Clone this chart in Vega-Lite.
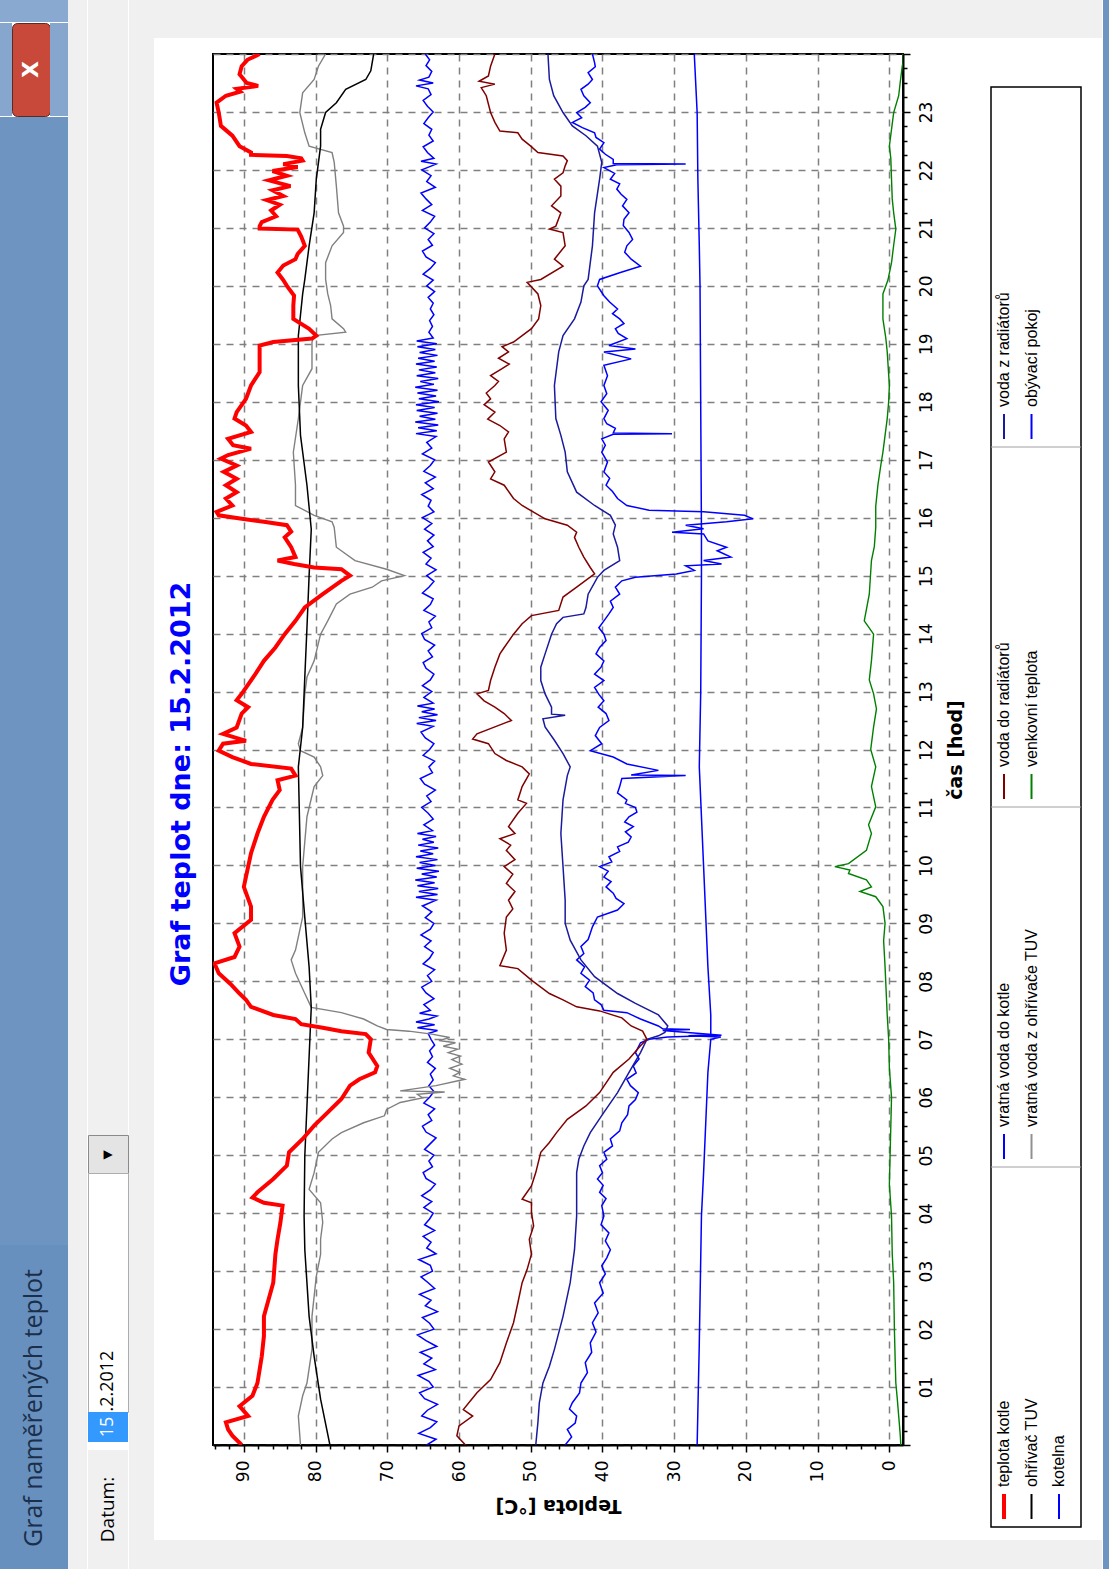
{
"$schema": "https://vega.github.io/schema/vega-lite/v6.json",
"padding": 0,
"background": "#ffffff",
"spacing": 0,
"config": {"view": {"stroke": null}},
"datasets": {
"kotel": [{"h":0,"t":90.3},{"h":0.16,"t":91.6},{"h":0.27,"t":92.2},{"h":0.39,"t":92.5},{"h":0.5,"t":89.4},{"h":0.67,"t":90.6},{"h":0.85,"t":88.8},{"h":1.07,"t":88.1},{"h":1.53,"t":87.5},{"h":1.88,"t":87.2},{"h":2.22,"t":87.2},{"h":2.8,"t":85.9},{"h":3.29,"t":85.6},{"h":3.55,"t":85.3},{"h":3.84,"t":84.9},{"h":4.13,"t":84.6},{"h":4.18,"t":87.2},{"h":4.27,"t":88.8},{"h":4.36,"t":88.1},{"h":4.59,"t":85.9},{"h":4.82,"t":84},{"h":5.05,"t":83.7},{"h":5.28,"t":81.8},{"h":5.51,"t":80.2},{"h":5.74,"t":78.3},{"h":5.97,"t":76.4},{"h":6.2,"t":75.2},{"h":6.31,"t":73.9},{"h":6.43,"t":71.7},{"h":6.54,"t":71.4},{"h":6.77,"t":72.6},{"h":7.0,"t":72.3},{"h":7.09,"t":73},{"h":7.14,"t":76.4},{"h":7.2,"t":79},{"h":7.26,"t":82},{"h":7.35,"t":82.8},{"h":7.42,"t":85.9},{"h":7.56,"t":89},{"h":7.68,"t":89.7},{"h":7.79,"t":90.6},{"h":7.96,"t":91.9},{"h":8.14,"t":93.5},{"h":8.31,"t":94.1},{"h":8.42,"t":91.3},{"h":8.6,"t":90.6},{"h":8.83,"t":91.3},{"h":9.06,"t":89},{"h":9.29,"t":89},{"h":9.63,"t":90},{"h":9.98,"t":89.4},{"h":10.21,"t":89},{"h":10.55,"t":88.1},{"h":10.84,"t":87.2},{"h":11.13,"t":86},{"h":11.3,"t":85},{"h":11.47,"t":85.3},{"h":11.55,"t":82.8},{"h":11.67,"t":83.4},{"h":11.75,"t":89},{"h":11.87,"t":91.6},{"h":11.98,"t":93.5},{"h":12.1,"t":92.9},{"h":12.15,"t":89.7},{"h":12.27,"t":92.9},{"h":12.38,"t":91},{"h":12.62,"t":90.3},{"h":12.73,"t":89.4},{"h":12.85,"t":91},{"h":12.96,"t":90.3},{"h":13.3,"t":88.4},{"h":13.53,"t":87.2},{"h":13.76,"t":85.6},{"h":13.99,"t":84.3},{"h":14.22,"t":82.8},{"h":14.45,"t":81.5},{"h":14.68,"t":79},{"h":14.91,"t":76.4},{"h":15.0,"t":75.2},{"h":15.11,"t":76.4},{"h":15.14,"t":80.2},{"h":15.2,"t":83},{"h":15.26,"t":85.3},{"h":15.32,"t":82.8},{"h":15.49,"t":83.4},{"h":15.66,"t":84.3},{"h":15.76,"t":83.4},{"h":15.87,"t":84},{"h":15.93,"t":87.2},{"h":15.98,"t":90.3},{"h":16.04,"t":93.5},{"h":16.1,"t":93.8},{"h":16.21,"t":91.6},{"h":16.33,"t":92.5},{"h":16.44,"t":91},{"h":16.56,"t":92.5},{"h":16.67,"t":91},{"h":16.79,"t":92.8},{"h":16.9,"t":91},{"h":17.02,"t":93.2},{"h":17.08,"t":92.2},{"h":17.19,"t":89},{"h":17.25,"t":91.5},{"h":17.36,"t":92.2},{"h":17.48,"t":89},{"h":17.59,"t":89.7},{"h":17.71,"t":91.3},{"h":17.82,"t":91},{"h":18.05,"t":89.7},{"h":18.28,"t":89},{"h":18.51,"t":87.8},{"h":18.97,"t":87.8},{"h":19.03,"t":85.9},{"h":19.09,"t":80.5},{"h":19.14,"t":79.9},{"h":19.26,"t":80.9},{"h":19.43,"t":83.1},{"h":19.66,"t":83.1},{"h":19.83,"t":83},{"h":20.0,"t":84},{"h":20.1,"t":84.5},{"h":20.23,"t":85.3},{"h":20.35,"t":84.5},{"h":20.46,"t":82.8},{"h":20.55,"t":82.5},{"h":20.69,"t":81.5},{"h":20.85,"t":82},{"h":20.97,"t":82.5},{"h":20.99,"t":87.8},{"h":21.03,"t":87.8},{"h":21.1,"t":87.5},{"h":21.2,"t":85.5},{"h":21.3,"t":86.2},{"h":21.4,"t":85},{"h":21.48,"t":86.8},{"h":21.55,"t":84.5},{"h":21.65,"t":86},{"h":21.72,"t":83.5},{"h":21.82,"t":86.5},{"h":21.9,"t":84},{"h":21.98,"t":86},{"h":22.05,"t":82.5},{"h":22.1,"t":84.5},{"h":22.16,"t":81.8},{"h":22.2,"t":82},{"h":22.24,"t":84},{"h":22.26,"t":89},{"h":22.3,"t":89},{"h":22.41,"t":90.6},{"h":22.59,"t":91.6},{"h":22.76,"t":93.2},{"h":22.99,"t":93.5},{"h":23.16,"t":93.8},{"h":23.28,"t":92.5},{"h":23.35,"t":90.5},{"h":23.4,"t":91},{"h":23.45,"t":88},{"h":23.5,"t":89.6},{"h":23.65,"t":90.6},{"h":23.79,"t":90.3},{"h":23.9,"t":89.5},{"h":24,"t":87.8}],
"tuv": [{"h":0,"t":78.0},{"h":0.79,"t":79.3},{"h":1.53,"t":80.2},{"h":2.22,"t":80.9},{"h":3.37,"t":81.5},{"h":3.95,"t":81.6},{"h":4.99,"t":81.5},{"h":5.85,"t":81.2},{"h":7.55,"t":80.6},{"h":8.25,"t":80.9},{"h":9.1,"t":81.5},{"h":9.98,"t":82.1},{"h":11.7,"t":82.4},{"h":12.38,"t":81.8},{"h":13.25,"t":81.5},{"h":14.1,"t":81.2},{"h":15.0,"t":80.9},{"h":15.8,"t":80.6},{"h":16.56,"t":81.2},{"h":17.42,"t":82.1},{"h":18.28,"t":82.4},{"h":19.14,"t":82.4},{"h":19.86,"t":81.8},{"h":20.11,"t":81.5},{"h":20.69,"t":80.9},{"h":21.26,"t":80.2},{"h":21.84,"t":79.9},{"h":22.41,"t":79.3},{"h":22.7,"t":79.3},{"h":22.99,"t":78.6},{"h":23.16,"t":77.1},{"h":23.39,"t":75.8},{"h":23.56,"t":73},{"h":23.71,"t":72.3},{"h":24,"t":71.9}],
"vratnaTUV": [{"h":0,"t":82.1},{"h":0.5,"t":82.4},{"h":0.85,"t":81.8},{"h":1.07,"t":81.2},{"h":1.65,"t":80.5},{"h":2.22,"t":80.5},{"h":2.91,"t":79.9},{"h":3.29,"t":79.3},{"h":3.55,"t":79.3},{"h":3.84,"t":79},{"h":4.18,"t":79.3},{"h":4.41,"t":80.9},{"h":4.7,"t":80.2},{"h":5.05,"t":79.6},{"h":5.28,"t":77.7},{"h":5.39,"t":76.4},{"h":5.56,"t":73.3},{"h":5.68,"t":70.4},{"h":5.79,"t":70.1},{"h":5.91,"t":68.2},{"h":5.99,"t":65.1},{"h":6.05,"t":65.8},{"h":6.09,"t":62},{"h":6.11,"t":68.2},{"h":6.2,"t":63.2},{"h":6.31,"t":59.2},{"h":6.37,"t":60.8},{"h":6.43,"t":59.9},{"h":6.5,"t":61.3},{"h":6.57,"t":59.6},{"h":6.65,"t":61.0},{"h":6.71,"t":59.8},{"h":6.77,"t":61.5},{"h":6.83,"t":60.2},{"h":6.88,"t":62.2},{"h":6.94,"t":60.5},{"h":6.98,"t":62.8},{"h":7.03,"t":61.3},{"h":7.09,"t":63.8},{"h":7.14,"t":67},{"h":7.17,"t":70.1},{"h":7.23,"t":71.4},{"h":7.35,"t":73.3},{"h":7.46,"t":76.4},{"h":7.55,"t":80.6},{"h":7.79,"t":81.5},{"h":8.14,"t":82.8},{"h":8.37,"t":83.4},{"h":8.54,"t":82.8},{"h":9.11,"t":81.8},{"h":9.98,"t":81.8},{"h":10.84,"t":81.2},{"h":11.36,"t":80.2},{"h":11.55,"t":79},{"h":11.7,"t":79.3},{"h":11.87,"t":80.2},{"h":11.98,"t":82.1},{"h":12.1,"t":82.4},{"h":12.38,"t":81.8},{"h":12.96,"t":81.5},{"h":13.25,"t":81.2},{"h":13.53,"t":80.2},{"h":13.99,"t":79.3},{"h":14.22,"t":78.3},{"h":14.51,"t":77.1},{"h":14.68,"t":75.2},{"h":14.8,"t":72.1},{"h":14.91,"t":70.8},{"h":15.0,"t":67.6},{"h":15.11,"t":70.1},{"h":15.26,"t":74.5},{"h":15.49,"t":77.1},{"h":15.83,"t":77.4},{"h":15.93,"t":77.7},{"h":16.04,"t":80.2},{"h":16.21,"t":82.8},{"h":16.56,"t":82.8},{"h":17.13,"t":83.1},{"h":17.71,"t":82.4},{"h":18.28,"t":81.8},{"h":18.57,"t":80.5},{"h":19.03,"t":80.5},{"h":19.14,"t":80.2},{"h":19.2,"t":75.8},{"h":19.26,"t":76.1},{"h":19.43,"t":77.7},{"h":19.66,"t":77.9},{"h":19.86,"t":78.3},{"h":20.11,"t":78.6},{"h":20.4,"t":78.6},{"h":20.69,"t":77.7},{"h":20.92,"t":76.1},{"h":21.03,"t":76.1},{"h":21.26,"t":76.8},{"h":21.72,"t":77.1},{"h":22.13,"t":77.4},{"h":22.3,"t":77.7},{"h":22.41,"t":80.9},{"h":22.64,"t":81.5},{"h":22.99,"t":82.2},{"h":23.33,"t":81.8},{"h":23.56,"t":80.2},{"h":23.79,"t":79.6},{"h":24,"t":78.6}],
"doRad": [{"h":0,"t":59.1},{"h":0.16,"t":60.3},{"h":0.33,"t":60},{"h":0.5,"t":58.1},{"h":0.61,"t":59.4},{"h":0.9,"t":57.5},{"h":1.13,"t":55.6},{"h":1.42,"t":54.3},{"h":1.76,"t":53.4},{"h":2.11,"t":52.4},{"h":2.45,"t":51.8},{"h":2.8,"t":51.2},{"h":3.03,"t":50.5},{"h":3.29,"t":49.9},{"h":3.55,"t":50.2},{"h":3.78,"t":49.6},{"h":4.01,"t":49.9},{"h":4.18,"t":49.9},{"h":4.24,"t":51.2},{"h":4.47,"t":49.9},{"h":4.7,"t":49.3},{"h":5.05,"t":48.6},{"h":5.22,"t":47.4},{"h":5.39,"t":46.4},{"h":5.62,"t":44.9},{"h":5.85,"t":42.3},{"h":6.08,"t":40.4},{"h":6.43,"t":38.5},{"h":6.66,"t":36.3},{"h":6.89,"t":34.7},{"h":7.0,"t":33.8},{"h":7.14,"t":34.4},{"h":7.23,"t":36},{"h":7.37,"t":37.3},{"h":7.49,"t":40.4},{"h":7.56,"t":43.6},{"h":7.68,"t":45.5},{"h":7.79,"t":47.4},{"h":8.02,"t":49.9},{"h":8.22,"t":51.8},{"h":8.27,"t":54.3},{"h":8.54,"t":53.4},{"h":8.83,"t":53.7},{"h":9.11,"t":53.4},{"h":9.25,"t":52.5},{"h":9.4,"t":53.1},{"h":9.55,"t":52.2},{"h":9.69,"t":53.4},{"h":9.85,"t":52.5},{"h":9.98,"t":53.7},{"h":10.1,"t":52.2},{"h":10.26,"t":53.4},{"h":10.35,"t":52.8},{"h":10.46,"t":54.3},{"h":10.55,"t":52.2},{"h":10.67,"t":53.1},{"h":10.9,"t":51.8},{"h":11.07,"t":50.6},{"h":11.13,"t":51.8},{"h":11.36,"t":51.2},{"h":11.58,"t":50.2},{"h":11.7,"t":51.2},{"h":11.81,"t":53.4},{"h":11.93,"t":55},{"h":12.1,"t":55.9},{"h":12.18,"t":58.1},{"h":12.27,"t":57.5},{"h":12.39,"t":55},{"h":12.5,"t":52.7},{"h":12.62,"t":53.7},{"h":12.73,"t":55},{"h":12.84,"t":56.5},{"h":12.96,"t":57.5},{"h":13.02,"t":55.9},{"h":13.19,"t":55.6},{"h":13.42,"t":55},{"h":13.65,"t":54.3},{"h":13.76,"t":53.7},{"h":13.99,"t":52.4},{"h":14.17,"t":51.2},{"h":14.31,"t":49.9},{"h":14.4,"t":46.1},{"h":14.63,"t":45.5},{"h":14.8,"t":43.6},{"h":15.03,"t":41.1},{"h":15.14,"t":41.7},{"h":15.32,"t":42.6},{"h":15.49,"t":43.3},{"h":15.66,"t":43.9},{"h":15.75,"t":43.6},{"h":15.87,"t":44.9},{"h":15.98,"t":48},{"h":16.21,"t":51.2},{"h":16.33,"t":52.4},{"h":16.56,"t":53.7},{"h":16.67,"t":55.6},{"h":16.79,"t":55},{"h":16.96,"t":55.9},{"h":17.13,"t":53.4},{"h":17.36,"t":53.7},{"h":17.48,"t":53.1},{"h":17.59,"t":54.3},{"h":17.7,"t":56},{"h":17.82,"t":55},{"h":17.95,"t":56.5},{"h":18.05,"t":55.6},{"h":18.15,"t":56.2},{"h":18.28,"t":55},{"h":18.35,"t":54.5},{"h":18.45,"t":55.6},{"h":18.57,"t":54},{"h":18.65,"t":53},{"h":18.75,"t":54.5},{"h":18.86,"t":53.1},{"h":18.95,"t":54},{"h":19.03,"t":52.4},{"h":19.14,"t":51.2},{"h":19.26,"t":49.9},{"h":19.43,"t":48.9},{"h":19.66,"t":48.6},{"h":19.86,"t":49},{"h":20.06,"t":50.5},{"h":20.11,"t":48.6},{"h":20.34,"t":45.5},{"h":20.46,"t":46.7},{"h":20.69,"t":45.2},{"h":20.92,"t":45.5},{"h":20.98,"t":47.4},{"h":21.03,"t":46.5},{"h":21.26,"t":45.8},{"h":21.38,"t":47.1},{"h":21.55,"t":45.8},{"h":21.72,"t":45.8},{"h":21.84,"t":46.7},{"h":21.95,"t":45.5},{"h":22.07,"t":45.2},{"h":22.16,"t":44.9},{"h":22.24,"t":45.5},{"h":22.3,"t":49},{"h":22.41,"t":50},{"h":22.53,"t":51.2},{"h":22.64,"t":51.8},{"h":22.67,"t":54.3},{"h":22.82,"t":55},{"h":22.99,"t":55.6},{"h":23.28,"t":56.2},{"h":23.42,"t":56.9},{"h":23.48,"t":55},{"h":23.53,"t":57.2},{"h":23.62,"t":55.9},{"h":23.79,"t":55.6},{"h":24,"t":55}],
"zRad": [{"h":0,"t":49.3},{"h":0.39,"t":49},{"h":0.73,"t":48.8},{"h":1.07,"t":48.3},{"h":1.36,"t":47.4},{"h":1.65,"t":46.7},{"h":2.22,"t":45.5},{"h":2.8,"t":44.5},{"h":3.37,"t":43.9},{"h":3.95,"t":43.6},{"h":4.36,"t":43.6},{"h":4.7,"t":43.6},{"h":4.93,"t":43.3},{"h":5.16,"t":42.6},{"h":5.39,"t":41.7},{"h":5.74,"t":39.8},{"h":6.08,"t":37.9},{"h":6.43,"t":36.3},{"h":6.77,"t":34.7},{"h":7.0,"t":33.8},{"h":7.06,"t":32.2},{"h":7.12,"t":31.3},{"h":7.23,"t":30.9},{"h":7.42,"t":32.2},{"h":7.62,"t":35.4},{"h":7.79,"t":37.9},{"h":8.08,"t":41.1},{"h":8.37,"t":43},{"h":8.71,"t":44.5},{"h":9.0,"t":45.2},{"h":9.4,"t":45.2},{"h":9.98,"t":45.5},{"h":10.55,"t":45.8},{"h":11.13,"t":45.5},{"h":11.55,"t":44.9},{"h":11.7,"t":44.5},{"h":11.93,"t":45.5},{"h":12.16,"t":46.7},{"h":12.39,"t":48},{"h":12.53,"t":48.3},{"h":12.59,"t":45.2},{"h":12.61,"t":47.1},{"h":12.73,"t":47.1},{"h":12.96,"t":48},{"h":13.19,"t":48.6},{"h":13.42,"t":48.6},{"h":13.65,"t":48},{"h":13.99,"t":47.1},{"h":14.17,"t":46.4},{"h":14.28,"t":45.5},{"h":14.34,"t":42.6},{"h":14.45,"t":42.3},{"h":14.68,"t":42},{"h":14.97,"t":40.7},{"h":15.09,"t":39.8},{"h":15.26,"t":37.6},{"h":15.49,"t":37.9},{"h":15.72,"t":38.5},{"h":15.87,"t":38.2},{"h":16.04,"t":38.9},{"h":16.21,"t":41.1},{"h":16.44,"t":43.6},{"h":16.79,"t":44.9},{"h":17.13,"t":45.2},{"h":17.42,"t":45.8},{"h":17.71,"t":46.5},{"h":18.28,"t":46.7},{"h":18.86,"t":46.1},{"h":19.14,"t":45.5},{"h":19.43,"t":43.9},{"h":19.72,"t":43},{"h":20.0,"t":42.6},{"h":20.11,"t":42.0},{"h":20.69,"t":41.4},{"h":21.26,"t":41.1},{"h":21.84,"t":40.4},{"h":22.13,"t":40.1},{"h":22.41,"t":40.7},{"h":22.59,"t":42.3},{"h":22.76,"t":44.2},{"h":22.99,"t":45.5},{"h":23.28,"t":46.8},{"h":23.56,"t":47.4},{"h":24,"t":47.6}],
"kotelna": [{"h":0,"t":45.2},{"h":0.14,"t":44.3},{"h":0.27,"t":44.9},{"h":0.38,"t":43.8},{"h":0.5,"t":43.6},{"h":0.62,"t":44.6},{"h":0.73,"t":44.2},{"h":0.9,"t":43.2},{"h":1.07,"t":43},{"h":1.25,"t":42.1},{"h":1.42,"t":42.4},{"h":1.6,"t":41.5},{"h":1.76,"t":41.7},{"h":1.95,"t":40.9},{"h":2.11,"t":41.4},{"h":2.28,"t":40.6},{"h":2.45,"t":41.1},{"h":2.62,"t":39.9},{"h":2.8,"t":40.4},{"h":2.95,"t":39.6},{"h":3.09,"t":40.1},{"h":3.23,"t":39.4},{"h":3.37,"t":38.9},{"h":3.52,"t":39.6},{"h":3.66,"t":39.1},{"h":3.8,"t":40.2},{"h":3.95,"t":39.8},{"h":4.13,"t":40.1},{"h":4.25,"t":39.5},{"h":4.36,"t":40.4},{"h":4.48,"t":39.9},{"h":4.59,"t":40.7},{"h":4.7,"t":40.0},{"h":4.82,"t":40.4},{"h":4.93,"t":39.4},{"h":5.05,"t":39.8},{"h":5.16,"t":38.6},{"h":5.28,"t":38.9},{"h":5.42,"t":37.6},{"h":5.56,"t":37.3},{"h":5.7,"t":36.5},{"h":5.85,"t":36.3},{"h":5.96,"t":35.4},{"h":6.08,"t":35},{"h":6.2,"t":36.1},{"h":6.31,"t":36.6},{"h":6.42,"t":35.3},{"h":6.54,"t":35.7},{"h":6.66,"t":34.9},{"h":6.77,"t":35.4},{"h":6.94,"t":34.7},{"h":7.0,"t":33.5},{"h":7.04,"t":30.9},{"h":7.07,"t":23.4},{"h":7.15,"t":31.6},{"h":7.17,"t":27.8},{"h":7.18,"t":31.6},{"h":7.23,"t":32.2},{"h":7.35,"t":34.7},{"h":7.46,"t":36.6},{"h":7.5,"t":39.8},{"h":7.6,"t":40.2},{"h":7.68,"t":41.1},{"h":7.8,"t":41.3},{"h":7.91,"t":42.4},{"h":8.02,"t":41.8},{"h":8.14,"t":43},{"h":8.25,"t":42.5},{"h":8.37,"t":43.6},{"h":8.48,"t":42.6},{"h":8.6,"t":43},{"h":8.72,"t":42.0},{"h":8.83,"t":41.7},{"h":8.94,"t":41.4},{"h":9.11,"t":40.7},{"h":9.23,"t":37.9},{"h":9.34,"t":37},{"h":9.43,"t":38.1},{"h":9.52,"t":38.5},{"h":9.63,"t":39.5},{"h":9.72,"t":38.8},{"h":9.8,"t":39.8},{"h":9.9,"t":39.2},{"h":9.98,"t":40.4},{"h":10.06,"t":38.7},{"h":10.15,"t":39.1},{"h":10.24,"t":37.6},{"h":10.32,"t":37.9},{"h":10.4,"t":36.4},{"h":10.49,"t":36},{"h":10.58,"t":36.8},{"h":10.67,"t":35.7},{"h":10.75,"t":36.9},{"h":10.84,"t":36.3},{"h":10.92,"t":35.2},{"h":11.0,"t":35.4},{"h":11.07,"t":36.8},{"h":11.13,"t":36.6},{"h":11.25,"t":37.9},{"h":11.36,"t":37.6},{"h":11.5,"t":37.3},{"h":11.55,"t":28.4},{"h":11.56,"t":36},{"h":11.64,"t":32.2},{"h":11.75,"t":36.6},{"h":11.87,"t":38.5},{"h":11.98,"t":41.7},{"h":12.1,"t":40.1},{"h":12.24,"t":41.0},{"h":12.38,"t":40.4},{"h":12.5,"t":39.1},{"h":12.62,"t":39.5},{"h":12.73,"t":40.6},{"h":12.84,"t":39.8},{"h":12.95,"t":40.5},{"h":13.07,"t":41.1},{"h":13.19,"t":39.8},{"h":13.3,"t":41.1},{"h":13.42,"t":40.2},{"h":13.53,"t":39.8},{"h":13.65,"t":40.9},{"h":13.76,"t":40.4},{"h":13.88,"t":39.5},{"h":13.99,"t":39.8},{"h":14.1,"t":40.5},{"h":14.22,"t":39.8},{"h":14.34,"t":39.1},{"h":14.45,"t":38.5},{"h":14.56,"t":38.9},{"h":14.68,"t":37.6},{"h":14.8,"t":38.2},{"h":14.91,"t":37.3},{"h":14.97,"t":35.4},{"h":15.03,"t":29.7},{"h":15.09,"t":27.2},{"h":15.17,"t":28.4},{"h":15.2,"t":23.4},{"h":15.26,"t":25.9},{"h":15.32,"t":22.1},{"h":15.43,"t":24},{"h":15.49,"t":22.7},{"h":15.6,"t":25.3},{"h":15.72,"t":25.9},{"h":15.75,"t":30.3},{"h":15.81,"t":25.9},{"h":15.87,"t":28.4},{"h":15.93,"t":22.7},{"h":15.98,"t":19.0},{"h":16.04,"t":20.2},{"h":16.1,"t":25.9},{"h":16.13,"t":33.5},{"h":16.21,"t":36.6},{"h":16.33,"t":37.9},{"h":16.45,"t":38.6},{"h":16.56,"t":39.5},{"h":16.68,"t":39.0},{"h":16.79,"t":39.8},{"h":16.96,"t":39.3},{"h":17.13,"t":40.1},{"h":17.25,"t":39.6},{"h":17.36,"t":40.1},{"h":17.44,"t":38.5},{"h":17.45,"t":30.3},{"h":17.46,"t":38.5},{"h":17.54,"t":38.2},{"h":17.62,"t":39.4},{"h":17.71,"t":39.8},{"h":17.85,"t":39.2},{"h":18.0,"t":40.2},{"h":18.14,"t":39.4},{"h":18.28,"t":39.8},{"h":18.45,"t":39.3},{"h":18.63,"t":39.8},{"h":18.74,"t":36},{"h":18.86,"t":39.8},{"h":18.91,"t":35.4},{"h":18.97,"t":39.1},{"h":19.09,"t":36.6},{"h":19.18,"t":37.8},{"h":19.26,"t":38.2},{"h":19.35,"t":37.0},{"h":19.43,"t":37.6},{"h":19.52,"t":38.6},{"h":19.6,"t":37.9},{"h":19.72,"t":39.0},{"h":19.83,"t":39.8},{"h":20.0,"t":40.7},{"h":20.11,"t":40.4},{"h":20.23,"t":37.5},{"h":20.34,"t":34.7},{"h":20.46,"t":36},{"h":20.58,"t":36.9},{"h":20.69,"t":36.6},{"h":20.8,"t":35.8},{"h":20.92,"t":36.3},{"h":21.04,"t":37.1},{"h":21.15,"t":37},{"h":21.26,"t":36.3},{"h":21.38,"t":37.2},{"h":21.49,"t":36.6},{"h":21.58,"t":37.4},{"h":21.67,"t":38},{"h":21.76,"t":37.6},{"h":21.84,"t":38.9},{"h":21.94,"t":38.3},{"h":22.04,"t":39.8},{"h":22.09,"t":38},{"h":22.1,"t":28.4},{"h":22.11,"t":38.5},{"h":22.18,"t":38.5},{"h":22.27,"t":39.6},{"h":22.36,"t":40.4},{"h":22.47,"t":39.8},{"h":22.56,"t":40.9},{"h":22.64,"t":41.1},{"h":22.73,"t":42.8},{"h":22.82,"t":44.2},{"h":22.9,"t":42.9},{"h":22.99,"t":43.6},{"h":23.08,"t":42.4},{"h":23.16,"t":41.7},{"h":23.28,"t":42.6},{"h":23.39,"t":43},{"h":23.48,"t":42.0},{"h":23.56,"t":41.4},{"h":23.68,"t":42},{"h":23.78,"t":41.0},{"h":23.85,"t":41.1},{"h":24,"t":41.4}],
"venku": [{"h":0,"t":-1.6},{"h":0.2,"t":-1.5},{"h":0.5,"t":-1.3},{"h":0.8,"t":-1.1},{"h":1.07,"t":-0.9},{"h":1.5,"t":-0.8},{"h":2.0,"t":-0.7},{"h":2.8,"t":-0.6},{"h":3.3,"t":-0.4},{"h":3.95,"t":-0.3},{"h":4.5,"t":0},{"h":5.0,"t":-0.1},{"h":5.5,"t":-0.2},{"h":6.0,"t":-0.3},{"h":6.5,"t":0},{"h":7.0,"t":0.1},{"h":7.42,"t":0.3},{"h":8.25,"t":0.6},{"h":8.7,"t":0.8},{"h":9.0,"t":0.6},{"h":9.29,"t":0.9},{"h":9.46,"t":1.9},{"h":9.55,"t":4.1},{"h":9.63,"t":2.5},{"h":9.75,"t":3.2},{"h":9.86,"t":5.7},{"h":9.92,"t":5.5},{"h":9.98,"t":7.6},{"h":10.03,"t":5.7},{"h":10.26,"t":3.2},{"h":10.55,"t":2.5},{"h":10.7,"t":2.9},{"h":11.01,"t":1.9},{"h":11.36,"t":2.5},{"h":11.7,"t":1.9},{"h":12.0,"t":2.6},{"h":12.39,"t":2.2},{"h":12.7,"t":1.8},{"h":12.96,"t":2.2},{"h":13.2,"t":2.8},{"h":13.53,"t":2.5},{"h":13.99,"t":2.2},{"h":14.22,"t":3.5},{"h":14.68,"t":2.8},{"h":15.26,"t":2.5},{"h":15.5,"t":2.1},{"h":15.83,"t":1.9},{"h":16.2,"t":1.9},{"h":16.56,"t":1.6},{"h":16.9,"t":1.2},{"h":17.13,"t":0.9},{"h":17.71,"t":0.3},{"h":18.0,"t":0.1},{"h":18.28,"t":0},{"h":18.86,"t":0.3},{"h":19.1,"t":0.5},{"h":19.43,"t":0.9},{"h":19.86,"t":0.9},{"h":20.1,"t":0.2},{"h":20.4,"t":-0.3},{"h":20.7,"t":-0.6},{"h":20.98,"t":-0.9},{"h":21.26,"t":-0.6},{"h":21.5,"t":-0.4},{"h":21.84,"t":-0.3},{"h":22.2,"t":-0.2},{"h":22.41,"t":0},{"h":22.7,"t":-0.3},{"h":22.99,"t":-0.6},{"h":23.28,"t":-1.3},{"h":23.5,"t":-1.5},{"h":23.79,"t":-1.8},{"h":23.85,"t":-1.9},{"h":24,"t":-1.9}],
"pokoj": [{"h":0,"t":26.8},{"h":1.76,"t":26.5},{"h":3.95,"t":26.2},{"h":4.7,"t":25.9},{"h":5.56,"t":25.6},{"h":6.43,"t":25.3},{"h":7.0,"t":24.9},{"h":7.04,"t":23.5},{"h":7.06,"t":28},{"h":7.08,"t":24.9},{"h":7.42,"t":24.9},{"h":8.25,"t":25.3},{"h":9.98,"t":25.9},{"h":11.7,"t":26.5},{"h":13,"t":26.3},{"h":15.0,"t":26.2},{"h":15.75,"t":26.2},{"h":17.9,"t":26.3},{"h":20,"t":26.4},{"h":20.69,"t":26.5},{"h":21.84,"t":26.7},{"h":22.99,"t":26.8},{"h":24,"t":27.2}],
"vratna": [{"h":0.0,"t":64.5},{"h":0.1,"t":63.2},{"h":0.2,"t":65.6},{"h":0.3,"t":64.0},{"h":0.4,"t":63.1},{"h":0.5,"t":65.2},{"h":0.6,"t":64.4},{"h":0.7,"t":63.0},{"h":0.8,"t":64.8},{"h":0.9,"t":65.5},{"h":1.0,"t":63.6},{"h":1.1,"t":64.2},{"h":1.2,"t":65.7},{"h":1.3,"t":63.3},{"h":1.4,"t":64.9},{"h":1.5,"t":63.8},{"h":1.6,"t":65.4},{"h":1.7,"t":63.1},{"h":1.8,"t":64.6},{"h":1.9,"t":65.8},{"h":2.0,"t":63.5},{"h":2.1,"t":64.1},{"h":2.2,"t":65.1},{"h":2.3,"t":63.0},{"h":2.4,"t":64.7},{"h":2.5,"t":63.9},{"h":2.6,"t":65.5},{"h":2.7,"t":63.4},{"h":2.8,"t":64.3},{"h":2.9,"t":65.3},{"h":3.0,"t":63.7},{"h":3.1,"t":64.0},{"h":3.2,"t":65.6},{"h":3.3,"t":63.2},{"h":3.4,"t":64.5},{"h":3.5,"t":63.9},{"h":3.6,"t":65.0},{"h":3.7,"t":63.4},{"h":3.8,"t":64.8},{"h":3.9,"t":64.1},{"h":4.0,"t":63.6},{"h":4.1,"t":64.9},{"h":4.2,"t":63.8},{"h":4.3,"t":65.2},{"h":4.4,"t":64.0},{"h":4.5,"t":63.3},{"h":4.6,"t":64.6},{"h":4.7,"t":65.0},{"h":4.8,"t":63.7},{"h":4.9,"t":64.2},{"h":5.0,"t":63.5},{"h":5.1,"t":64.8},{"h":5.2,"t":64.0},{"h":5.3,"t":63.2},{"h":5.4,"t":64.6},{"h":5.5,"t":65.1},{"h":5.6,"t":63.8},{"h":5.7,"t":64.3},{"h":5.8,"t":63.4},{"h":5.9,"t":64.9},{"h":6.0,"t":64.1},{"h":6.1,"t":63.5},{"h":6.2,"t":64.2},{"h":6.3,"t":63.6},{"h":6.4,"t":64.0},{"h":6.5,"t":63.3},{"h":6.6,"t":64.4},{"h":6.7,"t":63.7},{"h":6.8,"t":64.1},{"h":6.9,"t":63.4},{"h":7.0,"t":63.9},{"h":7.1,"t":64.3},{"h":7.15,"t":63.0},{"h":7.2,"t":65.8},{"h":7.25,"t":63.4},{"h":7.3,"t":66.0},{"h":7.35,"t":64.2},{"h":7.4,"t":63.1},{"h":7.45,"t":65.5},{"h":7.5,"t":64.0},{"h":7.6,"t":64.9},{"h":7.7,"t":63.5},{"h":7.8,"t":64.6},{"h":7.9,"t":65.2},{"h":8.0,"t":63.8},{"h":8.1,"t":64.4},{"h":8.2,"t":63.4},{"h":8.3,"t":65.0},{"h":8.4,"t":64.1},{"h":8.5,"t":63.6},{"h":8.6,"t":64.8},{"h":8.7,"t":63.9},{"h":8.8,"t":65.3},{"h":8.9,"t":64.0},{"h":9.0,"t":63.5},{"h":9.1,"t":64.7},{"h":9.2,"t":63.8},{"h":9.3,"t":65.1},{"h":9.4,"t":63.2},{"h":9.45,"t":66.0},{"h":9.5,"t":63.0},{"h":9.55,"t":65.6},{"h":9.6,"t":62.9},{"h":9.65,"t":65.8},{"h":9.7,"t":63.4},{"h":9.75,"t":66.1},{"h":9.8,"t":63.1},{"h":9.85,"t":65.2},{"h":9.9,"t":62.8},{"h":9.95,"t":65.9},{"h":10.0,"t":63.3},{"h":10.05,"t":65.5},{"h":10.1,"t":63.0},{"h":10.15,"t":66.0},{"h":10.2,"t":63.6},{"h":10.25,"t":65.4},{"h":10.3,"t":62.9},{"h":10.35,"t":65.7},{"h":10.4,"t":63.5},{"h":10.45,"t":65.1},{"h":10.5,"t":63.2},{"h":10.55,"t":65.8},{"h":10.6,"t":63.7},{"h":10.7,"t":64.9},{"h":10.8,"t":63.6},{"h":10.9,"t":64.3},{"h":11.0,"t":65.2},{"h":11.1,"t":63.9},{"h":11.2,"t":64.5},{"h":11.3,"t":63.3},{"h":11.4,"t":64.8},{"h":11.5,"t":65.4},{"h":11.6,"t":63.7},{"h":11.7,"t":64.2},{"h":11.8,"t":63.4},{"h":11.9,"t":65.0},{"h":12.0,"t":64.1},{"h":12.1,"t":63.5},{"h":12.2,"t":64.7},{"h":12.3,"t":65.3},{"h":12.4,"t":63.6},{"h":12.45,"t":65.9},{"h":12.5,"t":63.2},{"h":12.55,"t":65.6},{"h":12.6,"t":63.0},{"h":12.65,"t":65.2},{"h":12.7,"t":63.4},{"h":12.75,"t":65.8},{"h":12.8,"t":63.6},{"h":12.9,"t":64.9},{"h":13.0,"t":63.8},{"h":13.1,"t":65.1},{"h":13.2,"t":64.0},{"h":13.3,"t":63.5},{"h":13.4,"t":64.6},{"h":13.5,"t":65.0},{"h":13.6,"t":63.7},{"h":13.7,"t":64.3},{"h":13.8,"t":63.4},{"h":13.9,"t":64.8},{"h":14.0,"t":65.2},{"h":14.1,"t":63.8},{"h":14.2,"t":64.2},{"h":14.3,"t":63.3},{"h":14.4,"t":64.9},{"h":14.5,"t":64.0},{"h":14.6,"t":63.6},{"h":14.7,"t":65.1},{"h":14.8,"t":64.2},{"h":14.9,"t":63.5},{"h":15.0,"t":64.5},{"h":15.1,"t":63.2},{"h":15.2,"t":64.6},{"h":15.3,"t":63.9},{"h":15.4,"t":65.0},{"h":15.5,"t":63.6},{"h":15.6,"t":64.4},{"h":15.7,"t":63.5},{"h":15.8,"t":64.8},{"h":15.9,"t":63.8},{"h":16.0,"t":65.1},{"h":16.1,"t":63.5},{"h":16.2,"t":64.3},{"h":16.3,"t":63.9},{"h":16.4,"t":65.2},{"h":16.5,"t":63.6},{"h":16.6,"t":64.7},{"h":16.7,"t":63.3},{"h":16.8,"t":64.9},{"h":16.9,"t":64.0},{"h":17.0,"t":63.4},{"h":17.1,"t":65.1},{"h":17.2,"t":63.8},{"h":17.3,"t":64.5},{"h":17.4,"t":63.2},{"h":17.45,"t":66.0},{"h":17.5,"t":63.1},{"h":17.55,"t":65.7},{"h":17.6,"t":62.9},{"h":17.65,"t":66.1},{"h":17.7,"t":63.3},{"h":17.75,"t":65.5},{"h":17.8,"t":63.0},{"h":17.85,"t":65.9},{"h":17.9,"t":63.4},{"h":17.95,"t":66.0},{"h":18.0,"t":62.8},{"h":18.05,"t":65.6},{"h":18.1,"t":63.2},{"h":18.15,"t":65.8},{"h":18.2,"t":63.0},{"h":18.25,"t":66.1},{"h":18.3,"t":63.5},{"h":18.35,"t":65.4},{"h":18.4,"t":62.9},{"h":18.45,"t":65.9},{"h":18.5,"t":63.3},{"h":18.55,"t":65.6},{"h":18.6,"t":63.1},{"h":18.65,"t":66.0},{"h":18.7,"t":63.4},{"h":18.75,"t":65.7},{"h":18.8,"t":63.0},{"h":18.85,"t":65.5},{"h":18.9,"t":63.3},{"h":18.95,"t":65.8},{"h":19.0,"t":63.1},{"h":19.05,"t":65.9},{"h":19.1,"t":63.6},{"h":19.2,"t":64.2},{"h":19.3,"t":63.7},{"h":19.4,"t":64.1},{"h":19.5,"t":63.5},{"h":19.6,"t":64.0},{"h":19.7,"t":63.6},{"h":19.8,"t":64.3},{"h":19.9,"t":63.4},{"h":20.0,"t":64.5},{"h":20.1,"t":63.6},{"h":20.2,"t":65.0},{"h":20.3,"t":64.0},{"h":20.4,"t":63.3},{"h":20.5,"t":64.6},{"h":20.6,"t":65.1},{"h":20.7,"t":63.7},{"h":20.8,"t":64.3},{"h":20.9,"t":63.5},{"h":21.0,"t":64.8},{"h":21.1,"t":64.0},{"h":21.2,"t":63.4},{"h":21.3,"t":65.1},{"h":21.4,"t":63.8},{"h":21.5,"t":64.6},{"h":21.6,"t":65.3},{"h":21.7,"t":63.3},{"h":21.8,"t":64.5},{"h":21.9,"t":63.9},{"h":22.0,"t":65.2},{"h":22.1,"t":63.2},{"h":22.15,"t":65.3},{"h":22.2,"t":63.5},{"h":22.3,"t":64.4},{"h":22.4,"t":65.0},{"h":22.5,"t":63.6},{"h":22.6,"t":64.2},{"h":22.7,"t":63.8},{"h":22.8,"t":64.9},{"h":22.9,"t":64.3},{"h":23.0,"t":63.6},{"h":23.1,"t":64.4},{"h":23.2,"t":65.0},{"h":23.3,"t":63.9},{"h":23.4,"t":64.3},{"h":23.45,"t":66.0},{"h":23.5,"t":63.6},{"h":23.55,"t":65.5},{"h":23.6,"t":64.2},{"h":23.7,"t":63.8},{"h":23.8,"t":64.6},{"h":23.9,"t":64.1},{"h":24.0,"t":64.7}],
"legend": [{"name":"teplota kotle","sec":0,"row":0},{"name":"ohřívač TUV","sec":0,"row":1},{"name":"kotelna","sec":0,"row":2},{"name":"vratná voda do kotle","sec":1,"row":0},{"name":"vratná voda z ohřívače TUV","sec":1,"row":1},{"name":"voda do radiátorů","sec":2,"row":0},{"name":"venkovní teplota","sec":2,"row":1},{"name":"voda z radiátorů","sec":3,"row":0},{"name":"obývací pokoj","sec":3,"row":1}]
},
"hconcat": [
 {"spacing": 0, "vconcat": [
   {"width": 68, "height": 22, "view": {"fill": "#8aa9d0", "stroke": null}, "data": {"values": [{}]}, "mark": {"type": "text", "text": ""}},
   {"spacing": 0, "bounds": "flush", "hconcat": [
     {"width": 12, "height": 93, "view": {"fill": "#86a6ce", "stroke": null}, "data": {"values": [{}]}, "mark": {"type": "text", "text": ""}},
     {"width": 38, "height": 93, "view": {"fill": "#c8483a", "stroke": "#5a2a24", "cornerRadius": 5}, "data": {"values": [{"t": "X"}]}, "mark": {"type": "text", "angle": 270, "font": "DejaVu Sans", "fontSize": 22, "fontWeight": "bold", "color": "#ffffff"}, "encoding": {"text": {"field": "t"}}},
     {"width": 18, "height": 93, "view": {"fill": "#86a6ce", "stroke": null}, "data": {"values": [{}]}, "mark": {"type": "text", "text": ""}}
   ]},
   {"width": 68, "height": 1128, "view": {"fill": "#6e94c2", "stroke": null}, "data": {"values": [{}]}, "mark": {"type": "text", "text": ""}},
   {"width": 68, "height": 326, "view": {"fill": "#6790bf", "stroke": null}, "data": {"values": [{"t": "Graf naměřených teplot"}]}, "mark": {"type": "text", "angle": 270, "font": "Open Sans", "fontSize": 25, "color": "#1b2f4a"}, "encoding": {"text": {"field": "t"}}}
 ]},
 {"spacing": 0, "hconcat": [
   {"width": 19, "height": 1569, "view": {"fill": "#f0f0f0", "stroke": null}, "data": {"values": [{}]}, "mark": {"type": "text", "text": ""}},
   {"spacing": 0, "bounds": "flush", "vconcat": [
     {"width": 40, "height": 1135, "view": {"fill": "#f0f0f0", "stroke": null}, "data": {"values": [{}]}, "mark": {"type": "text", "text": ""}},
     {"width": 40, "height": 38, "view": {"fill": "#e4e4e4", "stroke": "#8a8a8a"}, "data": {"values": [{"t": "▶"}]}, "mark": {"type": "text", "font": "DejaVu Sans", "fontSize": 12, "color": "#000000"}, "encoding": {"text": {"field": "t"}}},
     {"width": 40, "height": 239, "view": {"fill": "#ffffff", "stroke": "#abadb3"}, "data": {"values": [{"t": ".2.2012"}]}, "mark": {"type": "text", "angle": 270, "align": "left", "font": "Open Sans", "fontSize": 18, "color": "#000000", "dx": -119}, "encoding": {"text": {"field": "t"}}},
     {"width": 40, "height": 30, "view": {"fill": "#3399ff", "stroke": null}, "data": {"values": [{"t": "15"}]}, "mark": {"type": "text", "angle": 270, "font": "Open Sans", "fontSize": 18, "color": "#ffffff"}, "encoding": {"text": {"field": "t"}}},
     {"width": 40, "height": 8, "view": {"fill": "#ffffff", "stroke": null}, "data": {"values": [{}]}, "mark": {"type": "text", "text": ""}},
     {"width": 40, "height": 119, "view": {"fill": "#f0f0f0", "stroke": null}, "data": {"values": [{"t": "Datum:"}]}, "mark": {"type": "text", "angle": 270, "font": "Open Sans", "fontSize": 19, "color": "#000000"}, "encoding": {"text": {"field": "t"}}}
   ]},
   {"width": 25, "height": 1569, "view": {"fill": "#f0f0f0", "stroke": null}, "data": {"values": [{}]}, "mark": {"type": "text", "text": ""}}
 ]},
 {"spacing": 0, "vconcat": [
   {"width": 948, "height": 38, "view": {"fill": "#f0f0f0", "stroke": null}, "data": {"values": [{}]}, "mark": {"type": "text", "text": ""}},
   {"spacing": 0, "hconcat": [
     {"width": 13, "height": 1502, "data": {"values": [{}]}, "mark": {"type": "text", "text": ""}},
     {"spacing": 0, "vconcat": [
       {"width": 690, "height": 14, "data": {"values": [{}]}, "mark": {"type": "text", "text": ""}},
       {"width": 690, "height": 1391,
        "view": {"stroke": "#000000", "strokeWidth": 2},
        "title": {"text": "Graf teplot dne: 15.2.2012", "orient": "left", "anchor": "middle", "frame": "bounds", "font": "DejaVu Sans", "fontSize": 27, "fontWeight": "bold", "color": "#0000ff", "offset": 10},
        "encoding": {
          "x": {"field": "t", "type": "quantitative", "scale": {"domain": [-1.9, 94.3], "reverse": true, "nice": false, "zero": false},
            "axis": {"orient": "bottom", "values": [0,2,4,6,8,10,12,14,16,18,20,22,24,26,28,30,32,34,36,38,40,42,44,46,48,50,52,54,56,58,60,62,64,66,68,70,72,74,76,78,80,82,84,86,88,90,92,94],
              "labelExpr": "datum.value % 10 === 0 ? datum.label : ''",
              "labelAngle": 270, "labelAlign": "right", "labelBaseline": "middle", "labelFont": "DejaVu Sans", "labelFontSize": 17, "labelColor": "#000000", "labelPadding": 8, "labelOverlap": false, "labelFlush": false, "labelBound": false,
              "tickColor": "#000000", "tickWidth": 1.5, "tickSize": {"condition": {"test": "datum.value % 10 === 0", "value": 7}, "value": 4},
              "grid": true, "gridColor": "#808080", "gridWidth": 1.5, "gridDash": [7, 6], "gridOpacity": {"condition": {"test": "datum.value % 10 === 0", "value": 1}, "value": 0},
              "domain": true, "domainColor": "#000000", "domainWidth": 2,
              "title": "Teplota [°C]", "titleAngle": 180, "titleBaseline": "bottom", "titleFont": "DejaVu Sans", "titleFontSize": 19, "titleFontWeight": "bold", "titleColor": "#000000", "titlePadding": 14}},
          "y": {"field": "h", "type": "quantitative", "scale": {"domain": [0, 24], "nice": false, "zero": false},
            "axis": {"orient": "right", "values": [0,0.25,0.5,0.75,1,1.25,1.5,1.75,2,2.25,2.5,2.75,3,3.25,3.5,3.75,4,4.25,4.5,4.75,5,5.25,5.5,5.75,6,6.25,6.5,6.75,7,7.25,7.5,7.75,8,8.25,8.5,8.75,9,9.25,9.5,9.75,10,10.25,10.5,10.75,11,11.25,11.5,11.75,12,12.25,12.5,12.75,13,13.25,13.5,13.75,14,14.25,14.5,14.75,15,15.25,15.5,15.75,16,16.25,16.5,16.75,17,17.25,17.5,17.75,18,18.25,18.5,18.75,19,19.25,19.5,19.75,20,20.25,20.5,20.75,21,21.25,21.5,21.75,22,22.25,22.5,22.75,23,23.25,23.5,23.75,24],
              "labelExpr": "(datum.value % 1 === 0 && datum.value > 0 && datum.value < 24) ? (datum.value < 10 ? '0' + datum.value : '' + datum.value) : ''",
              "labelAngle": 270, "labelAlign": "center", "labelBaseline": "top", "labelFont": "DejaVu Sans", "labelFontSize": 17, "labelColor": "#000000", "labelPadding": 8, "labelOverlap": false, "labelFlush": false, "labelBound": false,
              "tickColor": "#000000", "tickWidth": 1.5, "tickSize": {"condition": {"test": "datum.value % 1 === 0", "value": 7}, "value": 4},
              "grid": true, "gridColor": "#808080", "gridWidth": 1.5, "gridDash": [7, 6], "gridOpacity": {"condition": {"test": "datum.value % 1 === 0", "value": 1}, "value": 0},
              "domain": true, "domainColor": "#000000", "domainWidth": 2,
              "title": "čas [hod]", "titleAngle": 270, "titleBaseline": "top", "titleFont": "DejaVu Sans", "titleFontSize": 19, "titleFontWeight": "bold", "titleColor": "#000000", "titlePadding": 12}},
          "order": {"field": "h", "type": "quantitative"}
        },
        "layer": [
          {"data": {"name": "venku"}, "mark": {"type": "line", "color": "#008000", "strokeWidth": 1.4, "clip": true}},
          {"data": {"name": "pokoj"}, "mark": {"type": "line", "color": "#0000ff", "strokeWidth": 1.5, "clip": true}},
          {"data": {"name": "kotelna"}, "mark": {"type": "line", "color": "#0000ff", "strokeWidth": 1.5, "clip": true}},
          {"data": {"name": "zRad"}, "mark": {"type": "line", "color": "#1a1aa0", "strokeWidth": 1.5, "clip": true}},
          {"data": {"name": "doRad"}, "mark": {"type": "line", "color": "#800000", "strokeWidth": 1.5, "clip": true}},
          {"data": {"name": "vratna"}, "mark": {"type": "line", "color": "#0000ff", "strokeWidth": 1.5, "clip": true}},
          {"data": {"name": "vratnaTUV"}, "mark": {"type": "line", "color": "#808080", "strokeWidth": 1.4, "clip": true}},
          {"data": {"name": "tuv"}, "mark": {"type": "line", "color": "#000000", "strokeWidth": 1.5, "clip": true}},
          {"data": {"name": "kotel"}, "mark": {"type": "line", "color": "#ff0000", "strokeWidth": 4, "clip": true}}
        ]
       }
     ]},
     {"width": 23, "height": 1502, "data": {"values": [{}]}, "mark": {"type": "text", "text": ""}},
     {"spacing": 0, "bounds": "flush", "vconcat": [
       {"width": 90, "height": 49, "data": {"values": [{}]}, "mark": {"type": "text", "text": ""}},
       {"width": 90, "height": 1440,
        "view": {"stroke": "#000000", "strokeWidth": 1.5},
        "layer": [
          {"data": {"values": [{"sec": 1}, {"sec": 2}, {"sec": 3}]}, "mark": {"type": "rule", "color": "#a0a0a0", "strokeWidth": 1},
           "encoding": {"y": {"field": "sec", "type": "quantitative", "scale": {"domain": [0, 4], "nice": false, "zero": false}, "axis": null}}},
          {"data": {"name": "legend"}, "mark": {"type": "rule", "yOffset": -8, "y2Offset": -33},
           "encoding": {
             "x": {"field": "row", "type": "quantitative", "scale": {"domain": [-0.473, 2.8], "nice": false, "zero": false}, "axis": null},
             "y": {"field": "sec", "type": "quantitative", "axis": null},
             "y2": {"field": "sec"},
             "color": {"field": "name", "type": "nominal", "legend": null, "scale": {"domain": ["teplota kotle","ohřívač TUV","kotelna","vratná voda do kotle","vratná voda z ohřívače TUV","voda do radiátorů","venkovní teplota","voda z radiátorů","obývací pokoj"], "range": ["#ff0000","#000000","#0000ff","#0000ff","#909090","#800000","#008000","#1a1aa0","#0000ff"]}},
             "strokeWidth": {"condition": {"test": "datum.name === 'teplota kotle'", "value": 4}, "value": 2}
           }},
          {"data": {"name": "legend"}, "mark": {"type": "text", "angle": 270, "align": "left", "baseline": "middle", "dx": 40, "font": "Liberation Sans", "fontSize": 16, "color": "#000000"},
           "encoding": {
             "x": {"field": "row", "type": "quantitative", "axis": null},
             "y": {"field": "sec", "type": "quantitative", "axis": null},
             "text": {"field": "name"}
           }}
        ]
       },
       {"width": 90, "height": 13, "data": {"values": [{}]}, "mark": {"type": "text", "text": ""}}
     ]},
     {"width": 20, "height": 1502, "data": {"values": [{}]}, "mark": {"type": "text", "text": ""}}
   ]},
   {"width": 948, "height": 29, "view": {"fill": "#f0f0f0", "stroke": null}, "data": {"values": [{}]}, "mark": {"type": "text", "text": ""}}
 ]},
 {"width": 9, "height": 1569, "view": {"fill": "#6e94c2", "stroke": null}, "data": {"values": [{}]}, "mark": {"type": "text", "text": ""}}
]
}
